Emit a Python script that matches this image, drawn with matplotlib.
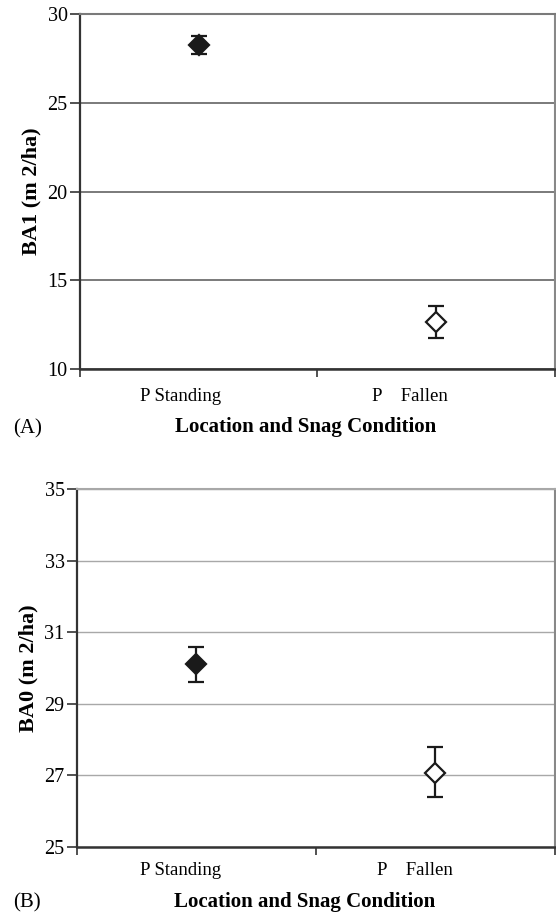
import numpy as np
import matplotlib
matplotlib.use("Agg")
import matplotlib.pyplot as plt

# data
categories = ["P Standing", "P    Fallen"]
ba1_mean = [28.25, 12.65]
ba1_low = [27.73, 11.76]
ba1_high = [28.78, 13.57]
ba0_mean = [30.1, 27.08]
ba0_low = [29.6, 26.4]
ba0_high = [30.6, 27.8]

plt.rcParams['font.family'] = ['Liberation Serif', 'DejaVu Serif']

fig = plt.figure(figsize=(5.56, 9.15), dpi=100)
ax1 = fig.add_axes([0.144, 0.5967, 0.854, 0.388])
ax2 = fig.add_axes([0.1385, 0.0743, 0.8595, 0.3913])


def panel(ax, mean, low, high, ylim, yticks, ylabel, gridcol, gridlw,
          labelpos, tickpad):
    x = np.arange(len(categories))
    yerr = [np.array(mean) - np.array(low), np.array(high) - np.array(mean)]
    ax.set_xlim(-0.5, len(categories) - 0.5)
    ax.set_ylim(*ylim)
    ax.set_yticks(yticks)
    ax.yaxis.grid(True, color=gridcol, lw=gridlw)
    ax.set_axisbelow(True)
    # filled and hollow diamonds
    fills = ['#1a1a1a', 'white']
    for i in x:
        ax.errorbar(x[i], mean[i], yerr=[[yerr[0][i]], [yerr[1][i]]],
                    fmt='D', ms=10, mfc=fills[i], mec='#1a1a1a', mew=1.6,
                    ecolor='#1a1a1a', elinewidth=1.6, capsize=6, capthick=1.6,
                    zorder=3)
    # category names sit a little left of the points in the original
    ax.set_xticks(labelpos)
    ax.set_xticklabels(categories, fontsize=13.5)
    ax.set_xticks([-0.5, 0.5, 1.5], minor=True)
    ax.tick_params(axis='x', which='major', length=0, pad=tickpad)
    ax.tick_params(axis='x', which='minor', length=6, width=1.2, color='#333333')
    ax.tick_params(axis='y', length=7, width=1.2, color='#333333', labelsize=14.5,
                   pad=2)
    ax.set_ylabel(ylabel, fontsize=16, fontweight='bold', labelpad=4)
    ax.spines['left'].set_color('#333333')
    ax.spines['left'].set_linewidth(1.6)
    ax.spines['bottom'].set_color('#333333')
    ax.spines['bottom'].set_linewidth(1.8)
    ax.spines['top'].set_color(gridcol)
    ax.spines['top'].set_linewidth(1.5)
    ax.spines['right'].set_color('#888888')
    ax.spines['right'].set_linewidth(1.5)


panel(ax1, ba1_mean, ba1_low, ba1_high, (10, 30), [10, 15, 20, 25, 30],
      "BA1 (m 2/ha)", '#7a7a7a', 1.4, [-0.075, 0.89], 14)
panel(ax2, ba0_mean, ba0_low, ba0_high, (25, 35), [25, 27, 29, 31, 33, 35],
      "BA0 (m 2/ha)", '#a8a8a8', 1.0, [-0.065, 0.915], 10.5)

fig.text(306 / 556, 1 - 427 / 915, "Location and Snag Condition", fontsize=15,
         fontweight='bold', ha='center', va='center')
fig.text(305 / 556, 1 - 902 / 915, "Location and Snag Condition", fontsize=15,
         fontweight='bold', ha='center', va='center')
fig.text(0.023, 1 - 429 / 915, "(A)", fontsize=15, va='center')
fig.text(0.023, 1 - 903 / 915, "(B)", fontsize=15, va='center')

fig.savefig("out.png", dpi=100)
